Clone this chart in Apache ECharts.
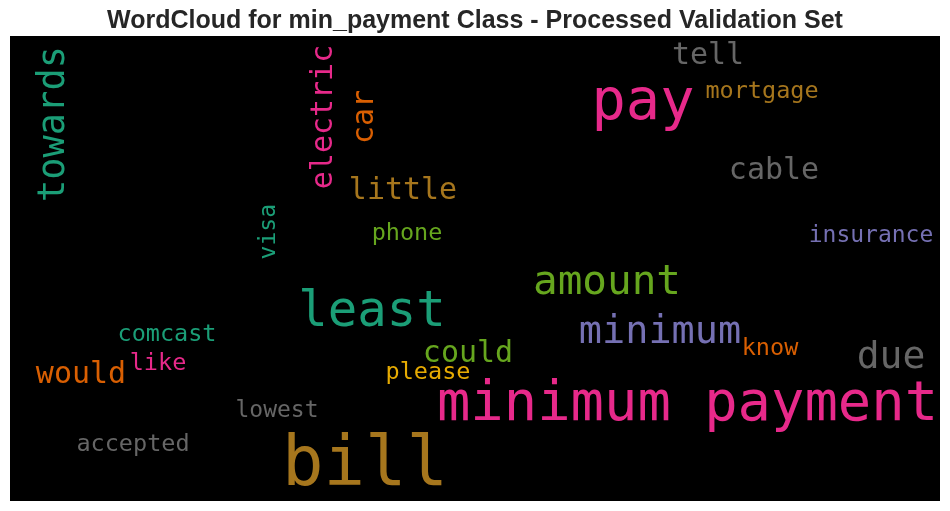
<!DOCTYPE html>
<html>
<head>
<meta charset="utf-8">
<script src="https://cdn.jsdelivr.net/npm/echarts@6/dist/echarts.min.js"></script>
<style>html,body{margin:0;padding:0;background:#fff;}#c{width:950px;height:511px;}</style>
</head>
<body>
<div id="c"></div>
<script>
// Words of the cloud and their relative weight (rendered font size)
const words = ['minimum payment','bill','pay','least','amount','minimum','due','towards','electric','car',
  'little','tell','cable','would','could','mortgage','insurance','phone','visa','comcast',
  'like','please','know','lowest','accepted'];
const weights = [55.5,69,57,49,41,38.5,38,37,30,30, 30,30,30,30,30, 23.5,23,23.5,23,23.5, 23.5,23.5,23.5,23,23.5];
// Layout of the cloud (canvas units of the word-cloud image)
const layoutX = [677.5,355,633,362,597,650,881,44,313.9,354.9, 393,698,764,71,458, 752,861,397,258.9,157, 148,418,760,267,123];
const layoutY = [369.2,431.3,68.6,277.4,247.1,296.6,321.8,88,81,81, 155.3,19.9,135.2,339.2,317.9, 55.8,200.4,197.5,195.7,298.7, 327.7,336.5,312.5,374.7,408.6];
const vertical = [0,0,0,0,0,0,0,1,1,1, 0,0,0,0,0, 0,0,0,1,0, 0,0,0,0,0];
// Dark2 colour assignment
const palette = {teal:'#1b9e77',orange:'#d95f02',purple:'#7570b3',pink:'#e7298a',green:'#66a61e',yellow:'#e6ab02',brown:'#a6761d',gray:'#666666'};
const colorOf = ['pink','brown','pink','teal','green','purple','gray','teal','pink','orange',
  'brown','gray','gray','orange','green','brown','purple','green','teal','teal',
  'pink','yellow','orange','gray','gray'];

const data = words.map((w, i) => ({
  value: [layoutX[i], layoutY[i]],
  name: w,
  label: {
    show: true,
    formatter: w,
    position: 'inside',
    rotate: vertical[i] ? 90 : 0,
    fontSize: weights[i],
    color: palette[colorOf[i]],
    textBorderWidth: 0,
    textBorderColor: 'transparent',
    fontFamily: 'DejaVu Sans Mono',
    align: 'center',
    verticalAlign: 'middle'
  }
}));

const chart = echarts.init(document.getElementById('c'), null, {renderer: 'canvas'});
chart.setOption({
  animation: false,
  backgroundColor: '#ffffff',
  title: {
    text: 'WordCloud for min_payment Class - Processed Validation Set',
    left: 'center',
    top: 4,
    textStyle: {fontFamily: 'Liberation Sans, Arial, sans-serif', fontWeight: 'bold', fontSize: 25, color: '#262626'}
  },
  grid: {left: 10, top: 36, width: 930, height: 465, show: true, backgroundColor: '#000000', borderWidth: 0},
  xAxis: {type: 'value', min: 0, max: 930, show: false},
  yAxis: {type: 'value', min: 0, max: 465, inverse: true, show: false},
  series: [{
    type: 'scatter',
    symbolSize: 1,
    itemStyle: {color: 'rgba(0,0,0,0)', opacity: 1},
    silent: true,
    data: data
  }]
});
</script>
</body>
</html>
